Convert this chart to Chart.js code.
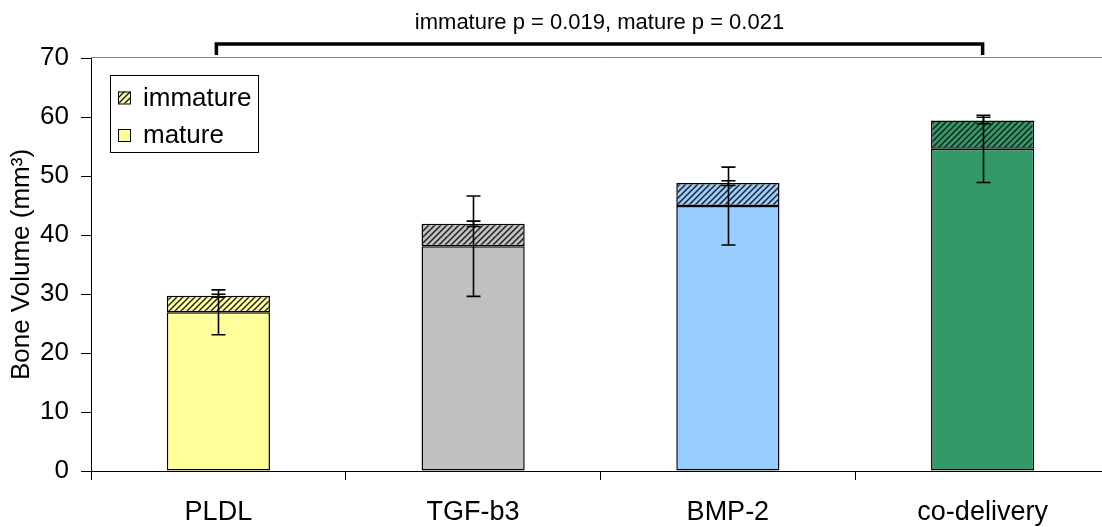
<!DOCTYPE html>
<html>
<head>
<meta charset="utf-8">
<script src="https://cdn.jsdelivr.net/npm/chart.js@4/dist/chart.umd.min.js"></script>
<style>
    html, body { margin: 0; padding: 0; background: #fff; overflow: hidden; }
    #wrap { width: 1112px; height: 527px; }
</style>
</head>
<body>
<div id="wrap"><canvas id="boneChart" width="1112" height="527"></canvas></div>
<script>
// Chart data
const categories = ['PLDL', 'TGF-b3', 'BMP-2', 'co-delivery'];
const matureValues = [26.9, 38.1, 44.9, 54.6];
const matureErrors = [3.8, 8.5, 6.6, 5.7];
const immatureValues = [2.8, 3.8, 3.9, 4.8];
const immatureErrors = [0.25, 0.45, 0.4, 0.55];
const barColors = ['#FFFF99', '#C0C0C0', '#99CCFF', '#339966'];
const yMin = 0, yMax = 70, yStep = 10;
const titleText = 'immature p = 0.019, mature p = 0.021';
const legendLabels = ['immature', 'mature'];

const FONT = "'Liberation Sans', Arial, sans-serif";

// diagonal hatch fill for the immature part
function makeHatch(color) {
    const c = document.createElement('canvas');
    c.width = 6;
    c.height = 6;
    const g = c.getContext('2d');
    g.fillStyle = color;
    g.fillRect(0, 0, 6, 6);
    g.strokeStyle = '#1a1a1a';
    g.lineWidth = 1.4;
    g.beginPath();
    g.moveTo(0, 6); g.lineTo(6, 0);
    g.moveTo(-3, 3); g.lineTo(3, -3);
    g.moveTo(3, 9); g.lineTo(9, 3);
    g.stroke();
    return g.createPattern(c, 'repeat');
}

const hatchColors = barColors.map(makeHatch);

// error bars, the p-value bracket and the boxed legend
const extrasPlugin = {
    id: 'extras',
    afterDatasetsDraw(chart) {
        const ctx = chart.ctx;
        const y = chart.scales.y;
        ctx.save();
        ctx.strokeStyle = '#000';
        ctx.lineWidth = 1.6;
        const sets = [
            { meta: chart.getDatasetMeta(0), err: matureErrors, total: i => matureValues[i] },
            { meta: chart.getDatasetMeta(1), err: immatureErrors, total: i => matureValues[i] + immatureValues[i] }
        ];
        sets.forEach(s => {
            s.meta.data.forEach((bar, i) => {
                const t = s.total(i);
                const hi = y.getPixelForValue(t + s.err[i]);
                const lo = y.getPixelForValue(t - s.err[i]);
                const x = Math.round(bar.x) + 0.5;
                ctx.beginPath();
                ctx.moveTo(x, hi); ctx.lineTo(x, lo);
                ctx.moveTo(x - 7, hi); ctx.lineTo(x + 7, hi);
                ctx.moveTo(x - 7, lo); ctx.lineTo(x + 7, lo);
                ctx.stroke();
            });
        });
        ctx.restore();
    },
    afterDraw(chart) {
        const ctx = chart.ctx;
        const area = chart.chartArea;
        const x = chart.scales.x;
        ctx.save();

        // thin top border of the plot area
        ctx.strokeStyle = '#808080';
        ctx.lineWidth = 1;
        ctx.beginPath();
        ctx.moveTo(area.left, Math.round(area.top) - 0.5);
        ctx.lineTo(area.right, Math.round(area.top) - 0.5);
        ctx.stroke();

        // bracket from first to last group, with the p values above it
        const x0 = x.getPixelForValue(0) - 2;
        const x1 = x.getPixelForValue(3);
        ctx.strokeStyle = '#000';
        ctx.lineWidth = 3.5;
        ctx.lineJoin = 'miter';
        ctx.beginPath();
        ctx.moveTo(x0, area.top - 3);
        ctx.lineTo(x0, area.top - 14);
        ctx.lineTo(x1, area.top - 14);
        ctx.lineTo(x1, area.top - 3);
        ctx.stroke();

        ctx.fillStyle = '#000';
        ctx.font = '22px ' + FONT;
        ctx.textAlign = 'center';
        ctx.textBaseline = 'alphabetic';
        ctx.fillText(titleText, (x0 + x1) / 2, 29);

        // legend box
        const lx = 110, ly = 75, lw = 148, lh = 77;
        ctx.lineWidth = 1;
        ctx.fillStyle = '#fff';
        ctx.fillRect(lx, ly, lw, lh);
        ctx.strokeStyle = '#000';
        ctx.strokeRect(lx + 0.5, ly + 0.5, lw, lh);

        const swatches = [hatchColors[0], barColors[0]];
        const rows = [97.5, 135];
        ctx.font = '26px ' + FONT;
        ctx.textBaseline = 'middle';
        ctx.textAlign = 'left';
        legendLabels.forEach((lab, i) => {
            const sy = rows[i] - 6;
            ctx.fillStyle = swatches[i];
            ctx.fillRect(118, sy, 12, 12);
            ctx.strokeStyle = '#000';
            ctx.strokeRect(118.5, sy + 0.5, 12, 12);
            ctx.fillStyle = '#000';
            ctx.fillText(lab, 143, rows[i] + 1);
        });
        ctx.restore();
    }
};

const ctx = document.getElementById('boneChart').getContext('2d');
new Chart(ctx, {
    type: 'bar',
    data: {
        labels: categories,
        datasets: [
            {
                label: 'mature',
                data: matureValues,
                backgroundColor: barColors,
                borderColor: '#000',
                borderWidth: 1.5,
                borderSkipped: false,
                categoryPercentage: 1,
                barPercentage: 0.405
            },
            {
                label: 'immature',
                data: immatureValues,
                backgroundColor: hatchColors,
                borderColor: '#000',
                borderWidth: 1.5,
                borderSkipped: false,
                categoryPercentage: 1,
                barPercentage: 0.405
            }
        ]
    },
    options: {
        responsive: false,
        animation: false,
        layout: {
            padding: { left: 0, right: 2, top: 58, bottom: 0 }
        },
        plugins: {
            legend: { display: false },
            tooltip: { enabled: false },
            title: { display: false }
        },
        scales: {
            x: {
                stacked: true,
                grid: {
                    display: true,
                    drawOnChartArea: false,
                    offset: true,
                    tickLength: 9,
                    color: '#000'
                },
                border: { color: '#000', width: 1 },
                ticks: {
                    color: '#000',
                    padding: 16,
                    font: { family: FONT, size: 27 }
                },
                afterFit(scale) { scale.height = 56; }
            },
            y: {
                stacked: true,
                min: yMin,
                max: yMax,
                grid: {
                    drawOnChartArea: false,
                    tickLength: 10,
                    color: '#000'
                },
                border: { color: '#000', width: 1 },
                ticks: {
                    stepSize: yStep,
                    color: '#000',
                    padding: 12,
                    font: { family: FONT, size: 26 }
                },
                title: {
                    display: true,
                    text: 'Bone Volume (mm³)',
                    color: '#000',
                    font: { family: FONT, size: 26 },
                    padding: { top: 6, bottom: 0 }
                },
                afterFit(scale) { scale.width = 91; }
            }
        }
    },
    plugins: [extrasPlugin]
});
</script>
</body>
</html>
